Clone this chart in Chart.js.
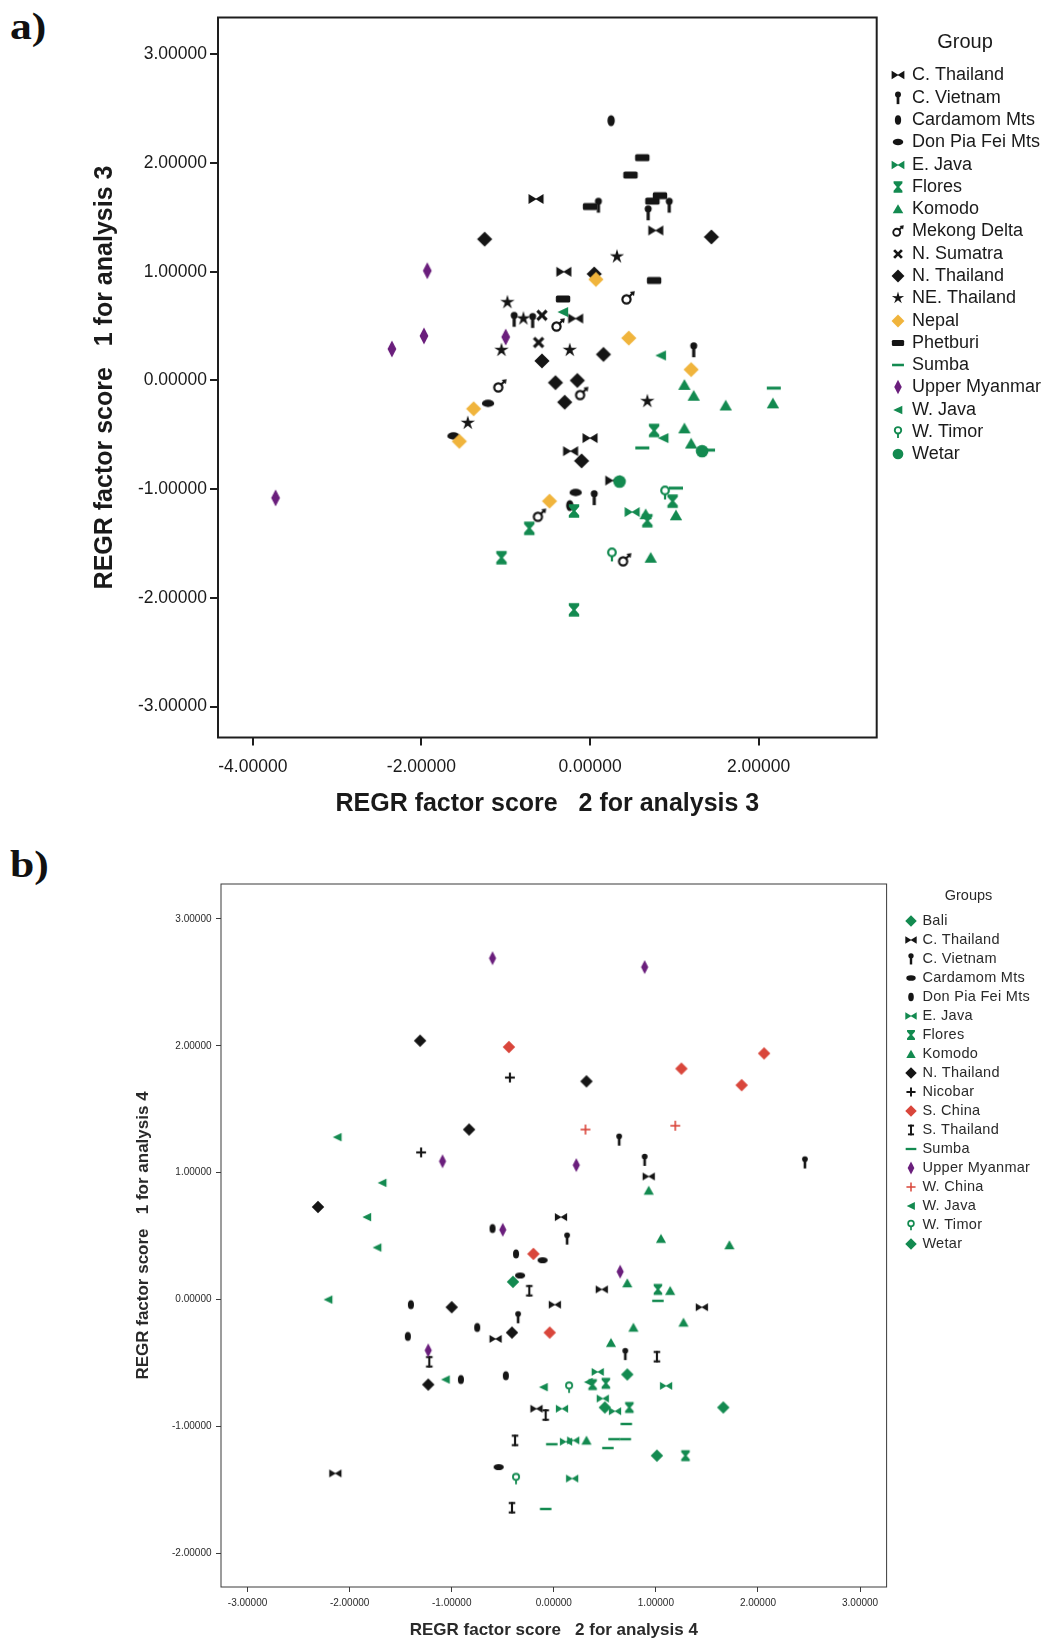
<!DOCTYPE html>
<html>
<head>
<meta charset="utf-8">
<title>REGR factor scores</title>
<script src="https://cdn.jsdelivr.net/npm/chart.js@4.4.1/dist/chart.umd.min.js"></script>
<style>
  html, body { margin: 0; padding: 0; background: #fff; }
  body { width: 1048px; height: 1641px; position: relative; overflow: hidden; }
  canvas { position: absolute; left: 0; }
  #chartA { top: 0; }
  #chartB { top: 845px; }
  .panel { position: absolute; left: 10px; margin: 0; line-height: 1; transform: scaleX(1.18); transform-origin: left top;
           font: bold 37px "Liberation Serif", "Times New Roman", serif; color: #111; }
</style>
</head>
<body>
<div class="panel" style="top:5px">a)</div>
<div class="panel" style="top:843px">b)</div>
<canvas id="chartA" width="1048" height="845"></canvas>
<canvas id="chartB" width="1048" height="796"></canvas>
<script>
// ---------- Panel a: factor scores, analysis 3 ----------
const groupsA = ['C. Thailand', 'C. Vietnam', 'Cardamom Mts', 'Don Pia Fei Mts', 'E. Java', 'Flores',
  'Komodo', 'Mekong Delta', 'N. Sumatra', 'N. Thailand', 'NE. Thailand', 'Nepal', 'Phetburi',
  'Sumba', 'Upper Myanmar', 'W. Java', 'W. Timor', 'Wetar'];
const xTicksA = [-4, -2, 0, 2];
const yTicksA = [-3, -2, -1, 0, 1, 2, 3];

// [score 2, score 1] pairs per group
const aCThailand   = [[-0.64, 1.67], [-0.31, 1.00], [0.78, 1.38], [-0.17, 0.57], [0.00, -0.53], [-0.23, -0.65], [0.27, -0.92]];
const aCVietnam    = [[0.10, 1.61], [0.69, 1.54], [0.94, 1.61], [1.23, 0.28], [-0.90, 0.56], [-0.68, 0.55], [0.05, -1.08]];
const aCardamom    = [[0.25, 2.39], [-0.24, -1.15]];
const aDonPiaFei   = [[-1.21, -0.21], [-1.62, -0.51], [-0.17, -1.03]];
const aEJava       = [[0.50, -1.21]];
const aFlores      = [[-1.05, -1.63], [-0.72, -1.36], [-0.19, -1.20], [-0.19, -2.11], [0.76, -0.46], [0.98, -1.11], [0.68, -1.29]];
const aKomodo      = [[1.12, -0.04], [1.23, -0.14], [1.61, -0.23], [2.17, -0.21], [1.12, -0.44], [1.20, -0.58], [1.02, -1.24], [0.72, -1.63], [0.66, -1.23]];
const aMekong      = [[-1.07, -0.05], [0.45, 0.76], [-0.38, 0.51], [-0.10, -0.12], [-0.60, -1.24], [0.41, -1.65]];
const aNSumatra    = [[-0.57, 0.60], [-0.61, 0.35]];
const aNThailand   = [[-1.25, 1.30], [1.44, 1.32], [0.05, 0.98], [0.16, 0.24], [-0.57, 0.18], [-0.41, -0.02], [-0.15, 0.00], [-0.30, -0.20], [-0.10, -0.74]];
const aNEThailand  = [[-0.98, 0.72], [-0.79, 0.57], [-1.05, 0.28], [0.32, 1.14], [-0.24, 0.28], [0.68, -0.19], [-1.45, -0.39]];
const aNepal       = [[0.07, 0.93], [0.46, 0.39], [1.20, 0.10], [-1.38, -0.26], [-1.55, -0.56], [-0.48, -1.11]];
const aPhetburi    = [[0.62, 2.05], [0.48, 1.89], [0.74, 1.65], [0.83, 1.70], [0.00, 1.60], [0.76, 0.92], [-0.32, 0.75]];
const aSumba       = [[2.18, -0.07], [0.62, -0.62], [1.02, -0.99], [1.40, -0.64]];
const aUpperMyanmar = [[-1.93, 1.01], [-1.97, 0.41], [-2.35, 0.29], [-1.00, 0.40], [-3.73, -1.08]];
const aWJava       = [[-0.32, 0.63], [0.84, 0.23], [0.87, -0.53]];
const aWTimor      = [[0.89, -1.03], [0.26, -1.60]];
const aWetar       = [[0.35, -0.93], [1.33, -0.65]];

// ---------- Panel b: factor scores, analysis 4 ----------
const groupsB = ['Bali', 'C. Thailand', 'C. Vietnam', 'Cardamom Mts', 'Don Pia Fei Mts', 'E. Java', 'Flores',
  'Komodo', 'N. Thailand', 'Nicobar', 'S. China', 'S. Thailand', 'Sumba', 'Upper Myanmar',
  'W. China', 'W. Java', 'W. Timor', 'Wetar'];
const xTicksB = [-3, -2, -1, 0, 1, 2, 3];
const yTicksB = [-2, -1, 0, 1, 2, 3];

const bBali        = [[-0.40, 0.14], [0.72, -0.59], [0.50, -0.85]];
const bCThailand   = [[0.07, 0.65], [0.93, 0.97], [0.01, -0.04], [-0.57, -0.31], [-0.17, -0.86], [-2.14, -1.37], [0.47, 0.08], [1.45, -0.06]];
const bCVietnam    = [[0.64, 1.26], [0.89, 1.10], [2.46, 1.08], [0.13, 0.48], [-0.35, -0.14], [0.70, -0.43]];
const bCardamom    = [[-0.11, 0.31], [-0.33, 0.19], [-0.54, -1.32]];
const bDonPiaFei   = [[-0.60, 0.56], [-0.37, 0.36], [-1.40, -0.04], [-0.75, -0.22], [-1.43, -0.29], [-0.91, -0.63], [-0.47, -0.60]];
const bEJava       = [[0.08, -0.86], [0.12, -1.12], [0.19, -1.11], [0.18, -1.41], [0.43, -0.57], [1.10, -0.68], [0.48, -0.78], [0.60, -0.88]];
const bFlores      = [[1.02, 0.08], [0.38, -0.67], [0.51, -0.66], [0.74, -0.85], [1.29, -1.23]];
const bKomodo      = [[0.93, 0.86], [1.05, 0.48], [1.72, 0.43], [0.72, 0.13], [1.14, 0.07], [0.78, -0.22], [1.27, -0.18], [0.56, -0.34], [0.32, -1.11]];
const bNThailand   = [[-1.31, 2.04], [-0.83, 1.34], [-2.31, 0.73], [0.32, 1.72], [-1.00, -0.06], [-0.41, -0.26], [-1.23, -0.67]];
const bNicobar     = [[-0.43, 1.75], [-1.30, 1.16]];
const bSChina      = [[-0.44, 1.99], [2.06, 1.94], [1.25, 1.82], [1.84, 1.69], [-0.20, 0.36], [-0.04, -0.26]];
const bSThailand   = [[-0.24, 0.07], [-1.22, -0.49], [-0.08, -0.91], [-0.38, -1.11], [-0.41, -1.64], [1.01, -0.45]];
const bSumba       = [[1.02, -0.01], [-0.02, -1.14], [-0.08, -1.65], [0.71, -0.98], [0.59, -1.10], [0.70, -1.10], [0.53, -1.17]];
const bUpperMyanmar = [[-0.60, 2.69], [0.89, 2.62], [-1.09, 1.09], [0.22, 1.06], [-0.50, 0.55], [-1.23, -0.40], [0.65, 0.22]];
const bWChina      = [[0.31, 1.34], [1.19, 1.37]];
const bWJava       = [[-2.12, 1.28], [-1.68, 0.92], [-1.83, 0.65], [-1.73, 0.41], [-2.21, 0.00], [-1.06, -0.63], [-0.10, -0.69], [0.34, -0.65]];
const bWTimor      = [[0.15, -0.69], [-0.37, -1.41]];
const bWetar       = [[1.66, -0.85], [1.01, -1.23]];

const seriesA = [aCThailand, aCVietnam, aCardamom, aDonPiaFei, aEJava, aFlores, aKomodo, aMekong, aNSumatra,
  aNThailand, aNEThailand, aNepal, aPhetburi, aSumba, aUpperMyanmar, aWJava, aWTimor, aWetar];
const seriesB = [bBali, bCThailand, bCVietnam, bCardamom, bDonPiaFei, bEJava, bFlores, bKomodo, bNThailand,
  bNicobar, bSChina, bSThailand, bSumba, bUpperMyanmar, bWChina, bWJava, bWTimor, bWetar];

// ---------- marker styles ----------
const BLACK = '#151515', GREEN = '#138a50', PURPLE = '#6a1e7c', GOLD = '#f0b43c', RED = '#d9463b';

const styleA = [
  ['bowtie', BLACK], ['pin', BLACK], ['vEllipse', BLACK], ['hEllipse', BLACK], ['bowtie', GREEN],
  ['hourglass', GREEN], ['triUp', GREEN], ['mars', BLACK], ['cross', BLACK], ['diamond', BLACK],
  ['star', BLACK], ['diamond', GOLD], ['rect', BLACK], ['dash', GREEN], ['narrowDiamond', PURPLE],
  ['triLeft', GREEN], ['venus', GREEN], ['circle', GREEN]
];
const styleB = [
  ['diamond', GREEN], ['bowtie', BLACK], ['pin', BLACK], ['hEllipse', BLACK], ['vEllipse', BLACK],
  ['bowtie', GREEN], ['hourglass', GREEN], ['triUp', GREEN], ['diamond', BLACK], ['plus', BLACK],
  ['diamond', RED], ['ibeam', BLACK], ['dash', GREEN], ['narrowDiamond', PURPLE], ['thinPlus', RED],
  ['triLeft', GREEN], ['venus', GREEN], ['diamond', GREEN]
];

// Draws one marker glyph into a small offscreen canvas, centred.
function makeMarker(kind, color, s) {
  const c = document.createElement('canvas');
  const n = Math.ceil(22 * s / 2) * 2;
  c.width = n; c.height = n;
  const g = c.getContext('2d');
  g.translate(n / 2, n / 2);
  g.scale(s, s);
  g.fillStyle = color;
  g.strokeStyle = color;
  const poly = (pts) => {
    g.beginPath();
    pts.forEach(([x, y], i) => (i ? g.lineTo(x, y) : g.moveTo(x, y)));
    g.closePath();
    g.fill();
  };
  const line = (x1, y1, x2, y2) => { g.beginPath(); g.moveTo(x1, y1); g.lineTo(x2, y2); g.stroke(); };
  switch (kind) {
    case 'bowtie':
      poly([[-7.5, -5], [0.7, 0], [-7.5, 5]]);
      poly([[7.5, -5], [-0.7, 0], [7.5, 5]]);
      break;
    case 'pin':
      g.beginPath(); g.arc(0, -4.2, 3.5, 0, Math.PI * 2); g.fill();
      g.fillRect(-1.6, -4.2, 3.2, 11.4);
      break;
    case 'vEllipse':
      g.beginPath(); g.ellipse(0, 0, 3.7, 5.6, 0, 0, Math.PI * 2); g.fill();
      break;
    case 'hEllipse':
      g.beginPath(); g.ellipse(0, 0, 6.2, 3.7, 0, 0, Math.PI * 2); g.fill();
      break;
    case 'hourglass':
      poly([[-5.2, -6.7], [5.2, -6.7], [5.2, -4.3], [1.4, 0], [5.2, 4.3], [5.2, 6.7], [-5.2, 6.7], [-5.2, 4.3], [-1.4, 0], [-5.2, -4.3]]);
      break;
    case 'triUp':
      poly([[0, -5.7], [6.2, 5.1], [-6.2, 5.1]]);
      break;
    case 'mars':
      g.lineWidth = 2.2;
      g.beginPath(); g.arc(-1.5, 1.5, 4.1, 0, Math.PI * 2); g.stroke();
      line(1.3, -1.3, 4.6, -4.6);
      poly([[6.8, -6.8], [1.8, -6.0], [6.0, -1.8]]);
      break;
    case 'cross':
      g.lineWidth = 3.2;
      line(-4.6, -4.6, 4.6, 4.6); line(4.6, -4.6, -4.6, 4.6);
      break;
    case 'plus':
      g.lineWidth = 2.6;
      line(-6, 0, 6, 0); line(0, -6, 0, 6);
      break;
    case 'thinPlus':
      g.lineWidth = 2;
      line(-6, 0, 6, 0); line(0, -6, 0, 6);
      break;
    case 'diamond':
      poly([[0, -7.6], [7.6, 0], [0, 7.6], [-7.6, 0]]);
      break;
    case 'narrowDiamond':
      poly([[0, -8.6], [4.4, 0], [0, 8.6], [-4.4, 0]]);
      break;
    case 'star': {
      const pts = [];
      for (let k = 0; k < 10; k++) {
        const r = k % 2 ? 2.7 : 7.6;
        const a = -Math.PI / 2 + k * Math.PI / 5;
        pts.push([r * Math.cos(a), r * Math.sin(a)]);
      }
      poly(pts);
      break;
    }
    case 'rect':
      g.beginPath(); g.roundRect(-7.2, -3.6, 14.4, 7.2, 1.6); g.fill();
      break;
    case 'dash':
      g.fillRect(-7, -1.5, 14, 3);
      break;
    case 'triLeft':
      poly([[-5.6, 0], [5.1, -5.1], [5.1, 5.1]]);
      break;
    case 'venus':
      g.lineWidth = 2.2;
      g.beginPath(); g.arc(0, -2, 3.8, 0, Math.PI * 2); g.stroke();
      line(0, 1.8, 0, 7);
      break;
    case 'circle':
      g.beginPath(); g.arc(0, 0, 6.3, 0, Math.PI * 2); g.fill();
      break;
    case 'ibeam':
      g.fillRect(-1.3, -7, 2.6, 14);
      g.fillRect(-4, -7, 8, 2.5);
      g.fillRect(-4, 4.5, 8, 2.5);
      break;
  }
  return c;
}

// ---------- plugins ----------
// Closed box round the plot area.
const frameBox = {
  id: 'frameBox',
  beforeDatasetsDraw(chart, args, o) {
    const { left, top, right, bottom } = chart.chartArea;
    const ctx = chart.ctx;
    ctx.save();
    ctx.strokeStyle = o.color;
    ctx.lineWidth = o.width;
    ctx.strokeRect(left, top, right - left, bottom - top);
    ctx.restore();
  }
};

// Group key to the right of the box.
const groupKey = {
  id: 'groupKey',
  afterDraw(chart, args, o) {
    const ctx = chart.ctx;
    const markers = chart.$keyMarkers || [];
    ctx.save();
    ctx.fillStyle = o.color;
    ctx.textBaseline = 'middle';
    ctx.textAlign = 'center';
    ctx.font = o.titleFont;
    ctx.fillText(o.title, o.titleX, o.titleY);
    ctx.font = o.font;
    ctx.textAlign = 'left';
    if (o.letterSpacing) ctx.letterSpacing = o.letterSpacing;
    chart.data.datasets.forEach((ds, i) => {
      const y = o.top + i * o.step;
      const m = markers[i];
      if (m) ctx.drawImage(m, Math.round(o.markerX - m.width / 2), Math.round(y - m.height / 2));
      ctx.fillText(ds.label, o.textX, y);
    });
    ctx.restore();
  }
};

const fixedTicks = (values) => (scale) => { scale.ticks = values.map((v) => ({ value: v })); };
const fmt = (v) => Number(v).toFixed(5);

function buildChart(id, cfg) {
  const datasets = cfg.groups.map((name, i) => ({
    label: name,
    data: cfg.series[i].map(([x, y]) => ({ x, y })),
    pointStyle: makeMarker(cfg.styles[i][0], cfg.styles[i][1], cfg.markerScale),
    pointRadius: 5,
    order: -i
  }));
  const chart = new Chart(document.getElementById(id), {
    type: 'scatter',
    data: { datasets },
    plugins: [frameBox, groupKey],
    options: {
      responsive: false,
      animation: false,
      devicePixelRatio: 1,
      events: [],
      layout: { padding: cfg.padding },
      plugins: {
        legend: { display: false },
        tooltip: { enabled: false },
        frameBox: cfg.frame,
        groupKey: cfg.key
      },
      scales: {
        x: {
          type: 'linear', position: 'bottom', min: cfg.xMin, max: cfg.xMax,
          afterFit: (s) => { s.height = cfg.xAxisHeight; },
          afterBuildTicks: fixedTicks(cfg.xTicks),
          ticks: { callback: fmt, font: cfg.tickFont, color: cfg.textColor, padding: cfg.xTickPad, maxRotation: 0, autoSkip: false },
          grid: { drawOnChartArea: false, drawTicks: true, tickLength: cfg.tickLen, color: cfg.frame.color, lineWidth: cfg.frame.width },
          border: { display: false },
          title: { display: true, text: cfg.xTitle, font: cfg.titleFont, color: cfg.textColor, padding: { top: 0, bottom: cfg.xTitlePad } }
        },
        y: {
          type: 'linear', position: 'left', min: cfg.yMin, max: cfg.yMax,
          afterFit: (s) => { s.width = cfg.yAxisWidth; },
          afterBuildTicks: fixedTicks(cfg.yTicks),
          ticks: { callback: fmt, font: cfg.tickFont, color: cfg.textColor, padding: cfg.yTickPad, autoSkip: false },
          grid: { drawOnChartArea: false, drawTicks: true, tickLength: cfg.tickLen, color: cfg.frame.color, lineWidth: cfg.frame.width },
          border: { display: false },
          title: { display: true, text: cfg.yTitle, font: cfg.titleFont, color: cfg.textColor, padding: { top: cfg.yTitlePad, bottom: 0 } }
        }
      }
    }
  });
  chart.$keyMarkers = cfg.styles.map(([k, c]) => makeMarker(k, c, cfg.keyScale));
  chart.draw();
  return chart;
}

const SANS = '"Liberation Sans", Arial, Helvetica, sans-serif';

buildChart('chartA', {
  groups: groupsA, series: seriesA, styles: styleA, markerScale: 1, keyScale: 0.85,
  padding: { left: 0, top: 17.5, right: 171.3, bottom: 0 },
  xMin: -4.413, xMax: 3.401, yMin: -3.284, yMax: 3.339,
  xTicks: xTicksA, yTicks: yTicksA,
  xAxisHeight: 107.5, yAxisWidth: 218,
  tickLen: 8, xTickPad: 11.5, yTickPad: 3,
  tickFont: { family: SANS, size: 17.5 },
  titleFont: { family: SANS, size: 25, weight: 'bold' },
  textColor: '#1a1a1a',
  xTitle: 'REGR factor score   2 for analysis 3', xTitlePad: 26,
  yTitle: 'REGR factor score   1 for analysis 3', yTitlePad: 89.7,
  frame: { color: '#1e1e1e', width: 2 },
  key: { title: 'Group', titleFont: '20px ' + SANS, font: '18px ' + SANS, color: '#1a1a1a',
         titleX: 965, titleY: 42, markerX: 898, textX: 912, top: 75.4, step: 22.29 }
});

buildChart('chartB', {
  groups: groupsB, series: seriesB, styles: styleB, markerScale: 0.82, keyScale: 0.76,
  padding: { left: 0, top: 39, right: 161.4, bottom: 0 },
  xMin: -3.26, xMax: 3.26, yMin: -2.265, yMax: 3.275,
  xTicks: xTicksB, yTicks: yTicksB,
  xAxisHeight: 54, yAxisWidth: 221,
  tickLen: 5, xTickPad: 5, yTickPad: 4.5,
  tickFont: { family: SANS, size: 10 },
  titleFont: { family: SANS, size: 17, weight: 'bold' },
  textColor: '#2a2a2a',
  xTitle: 'REGR factor score   2 for analysis 4', xTitlePad: 0.8,
  yTitle: 'REGR factor score   1 for analysis 4', yTitlePad: 133.2,
  frame: { color: '#3a3a3a', width: 1 },
  key: { title: 'Groups', titleFont: '14.5px ' + SANS, font: '14.5px ' + SANS, color: '#2a2a2a', letterSpacing: '0.3px',
         titleX: 968.5, titleY: 51.3, markerX: 911, textX: 922.4, top: 76.4, step: 18.97 }
});
</script>
</body>
</html>
